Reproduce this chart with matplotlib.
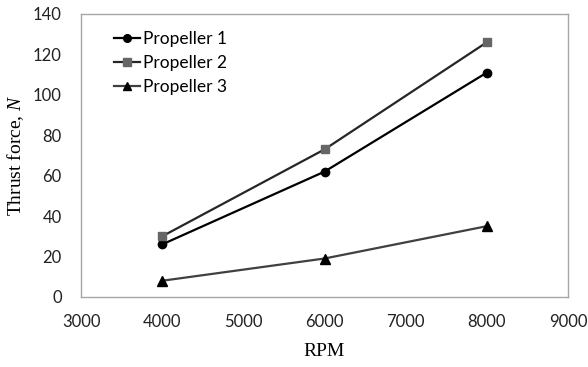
import matplotlib
matplotlib.use('Agg')
import matplotlib.pyplot as plt

rpm = [4000, 6000, 8000]
prop1 = [26, 62, 111]
prop2 = [30, 73, 126]
prop3 = [8, 19, 35]
labels = ['Propeller 1', 'Propeller 2', 'Propeller 3']

tick_font = 'Lato'
label_font = 'Liberation Serif'
plt.rcParams['mathtext.fontset'] = 'custom'
plt.rcParams['mathtext.it'] = 'Liberation Serif:italic'
plt.rcParams['mathtext.rm'] = 'Liberation Serif'

fig = plt.figure(figsize=(5.88, 3.67), dpi=100)
ax = fig.add_axes([0.138, 0.191, 0.828, 0.771])

ax.plot(rpm, prop1, color='black', lw=1.6, marker='o', ms=6, label=labels[0])
ax.plot(rpm, prop2, color='#262626', lw=1.6, marker='s', ms=5.5, mfc='#666666', mec='#666666', label=labels[1])
ax.plot(rpm, prop3, color='#404040', lw=1.6, marker='^', ms=7, mfc='black', mec='black', label=labels[2])

ax.set_xlim(3000, 9000)
ax.set_ylim(0, 140)
ax.set_xticks(range(3000, 9001, 1000))
ax.set_yticks(range(0, 141, 20))
ax.tick_params(length=0, labelsize=12)
ax.tick_params(axis='y', pad=14)
ax.tick_params(axis='x', pad=12)
for t in ax.get_xticklabels() + ax.get_yticklabels():
    t.set_fontfamily(tick_font)
    t.set_color('#222222')

for s in ax.spines.values():
    s.set_color('#a6a6a6')
    s.set_linewidth(1)

ax.set_xlabel('RPM', fontfamily=label_font, fontsize=14, labelpad=10)
ax.set_ylabel('Thrust force, $\\mathit{N}$', fontfamily=label_font, fontsize=14, labelpad=5)

leg = ax.legend(loc='upper left', bbox_to_anchor=(0.035, 0.995), frameon=False,
                prop={'family': tick_font, 'size': 12.5}, handlelength=1.5,
                handletextpad=0.2, labelspacing=0.45)
for h in leg.legend_handles:
    h.set_markersize(5.5)

fig.savefig('out.png', dpi=100)
